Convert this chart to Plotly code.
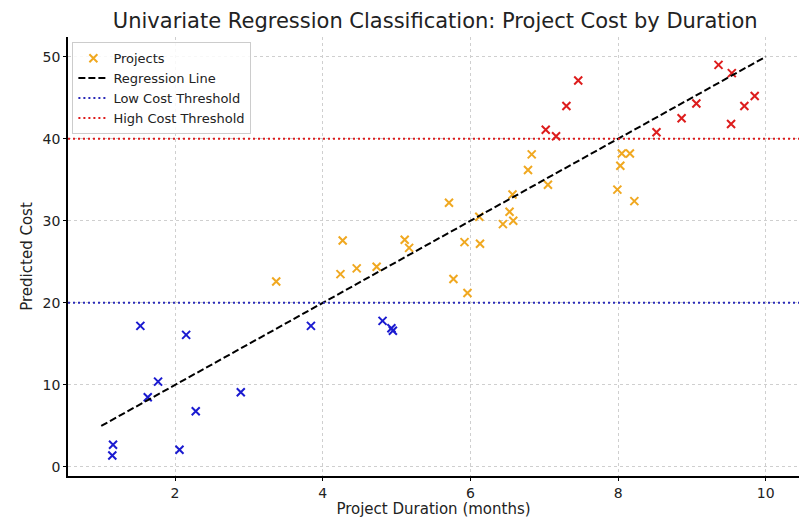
import plotly.graph_objects as go

# Low-cost projects (blue)
low_x = [1.16, 1.15, 1.53, 1.63, 1.77, 2.15, 2.06, 2.28, 2.89, 3.84, 4.81, 4.93, 4.95]
low_y = [2.7, 1.4, 17.2, 8.5, 10.4, 16.1, 2.1, 6.8, 9.1, 17.2, 17.8, 16.9, 16.6]

# Mid-cost projects (orange)
mid_x = [3.37, 4.24, 4.27, 4.46, 4.73, 5.11, 5.17, 5.71, 5.77, 5.96, 5.92, 6.13, 6.12,
         6.44, 6.53, 6.58, 6.57, 6.78, 6.83, 7.05, 7.99, 8.03, 8.05, 8.16, 8.22]
mid_y = [22.6, 23.5, 27.6, 24.2, 24.4, 27.7, 26.7, 32.2, 22.9, 21.2, 27.4, 27.2, 30.5,
         29.6, 31.1, 30.0, 33.2, 36.2, 38.1, 34.4, 33.8, 36.7, 38.2, 38.2, 32.4]

# High-cost projects (red)
high_x = [7.02, 7.16, 7.30, 7.46, 8.52, 8.86, 9.06, 9.36, 9.54, 9.53, 9.71, 9.85]
high_y = [41.1, 40.3, 44.0, 47.1, 40.8, 42.5, 44.3, 49.0, 48.0, 41.8, 44.0, 45.2]

# Regression line endpoints
reg_x = [1, 10]
reg_y = [5, 50]

low_threshold = 20
high_threshold = 40

x_ticks = [2, 4, 6, 8, 10]
y_ticks = [0, 10, 20, 30, 40, 50]

FONT = "DejaVu Sans"
ORANGE = "#f0a820"
BLUE = "#1a1ad0"
RED = "#dd1c1c"

fig = go.Figure()

def mk(c):
    return dict(symbol="x-thin", size=8, color=c, line=dict(width=2, color=c))

fig.add_trace(go.Scatter(x=mid_x, y=mid_y, mode="markers", name="Projects",
                         marker=mk(ORANGE), legendrank=1))
fig.add_trace(go.Scatter(x=low_x, y=low_y, mode="markers", name="low",
                         marker=mk(BLUE), showlegend=False))
fig.add_trace(go.Scatter(x=high_x, y=high_y, mode="markers", name="high",
                         marker=mk(RED), showlegend=False))
fig.add_trace(go.Scatter(x=reg_x, y=reg_y, mode="lines", name="Regression Line",
                         line=dict(color="black", width=2, dash="7px,3px"), legendrank=2))

fig.add_hline(y=low_threshold, line=dict(color="#2a2ab8", width=2, dash="2px,3px"),
              name="Low Cost Threshold", showlegend=True, legendrank=3)
fig.add_hline(y=high_threshold, line=dict(color=RED, width=2, dash="2px,3px"),
              name="High Cost Threshold", showlegend=True, legendrank=4)

axis_common = dict(
    showline=True, linecolor="black", linewidth=1.5, mirror=False,
    ticks="outside", ticklen=3, tickcolor="black", tickwidth=1,
    showgrid=True, gridcolor="#cfcfcf", griddash="dot", gridwidth=1,
    zeroline=False, automargin=False,
    tickfont=dict(family=FONT, size=14, color="#222"),
)

fig.update_layout(
    width=803, height=518,
    margin=dict(l=68, r=4, t=37, b=42),
    paper_bgcolor="white", plot_bgcolor="white",
    font=dict(family=FONT, color="#222"),
    title=dict(text="Univariate Regression Classification: Project Cost by Duration",
               x=0.542, xanchor="center", y=0.961, yanchor="middle",
               font=dict(family=FONT, size=21, color="#222")),
    xaxis=dict(range=[0.55, 10.45], tickvals=x_ticks,
               title=dict(text="Project Duration (months)", standoff=3,
                          font=dict(family=FONT, size=15, color="#222")),
               **axis_common),
    yaxis=dict(range=[-1.1, 52.4], tickvals=y_ticks,
               title=dict(text="Predicted Cost", standoff=6,
                          font=dict(family=FONT, size=15, color="#222")),
               **axis_common),
    legend=dict(x=0.006, y=0.988, xanchor="left", yanchor="top",
                bgcolor="rgba(255,255,255,0.85)", bordercolor="#cccccc", borderwidth=1,
                font=dict(family=FONT, size=13, color="#222"),
                tracegroupgap=0, itemwidth=30),
    showlegend=True,
)

fig.write_html("out.html")
